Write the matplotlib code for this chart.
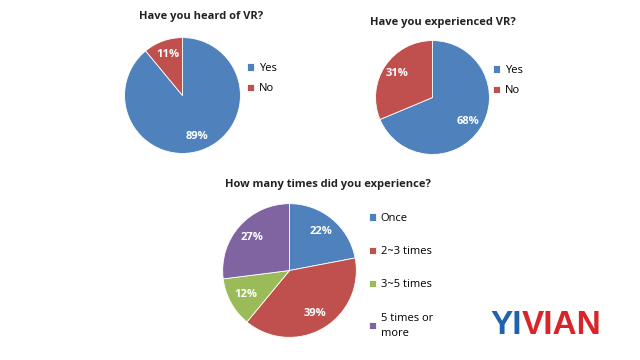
import matplotlib.pyplot as plt

# survey data
heard_labels = ['Yes', 'No']
heard_vals = [89, 11]
exp_labels = ['Yes', 'No']
exp_vals = [68, 31]
times_labels = ['Once', '2~3 times', '3~5 times', '5 times or\nmore']
times_vals = [22, 39, 12, 27]

blue, red, green, purple = '#4F81BD', '#C0504D', '#9BBB59', '#8064A2'
W, H = 640, 360

plt.rcParams['font.family'] = ['Open Sans', 'DejaVu Sans']

fig = plt.figure(figsize=(6.4, 3.6), dpi=100)
fig.patch.set_facecolor('white')


def px_axes(left, top, size):
    return fig.add_axes([left / W, (H - top - size) / H, size / W, size / H])


def draw_pie(ax, vals, labels, colors, title, title_xy, leg_xy, spacing, fs_title=8):
    wedges, _, autos = ax.pie(vals, colors=colors, startangle=90, counterclock=False,
                              autopct=lambda p: '%d%%' % round(p * sum(vals) / 100),
                              pctdistance=0.75, normalize=True,
                              wedgeprops=dict(edgecolor='white', linewidth=0.6))
    ax.set_xlim(-1.01, 1.01)
    ax.set_ylim(-1.01, 1.01)
    for t in autos:
        t.set_color('white')
        t.set_fontweight('bold')
        t.set_fontsize(8)
    fig.text(title_xy[0] / W, 1 - title_xy[1] / H, title, ha='center', va='center',
             fontsize=fs_title, fontweight='bold', color='#222222')
    leg = ax.legend(wedges, labels, loc='upper left',
                    bbox_to_anchor=(leg_xy[0] / W, 1 - leg_xy[1] / H),
                    bbox_transform=fig.transFigure, frameon=False, fontsize=8,
                    handlelength=0.65, handleheight=0.65, handletextpad=0.4,
                    labelspacing=spacing, borderpad=0, borderaxespad=0)
    return leg


ax1 = px_axes(124, 37, 117)
draw_pie(ax1, heard_vals, heard_labels, [blue, red], 'Have you heard of VR?',
         (201, 16), (247, 63), 0.85)

ax2 = px_axes(375, 40, 115)
draw_pie(ax2, exp_vals, exp_labels, [blue, red], 'Have you experienced VR?',
         (443, 23), (493, 65), 0.85)

ax3 = px_axes(222, 203, 135)
leg3 = draw_pie(ax3, times_vals, times_labels, [blue, red, green, purple],
                'How many times did you experience?', (328, 184), (369, 213), 2.0)
leg3.get_texts()[-1].set_linespacing(1.5)

fig.text(522 / W, 1 - 326 / H, 'YI', ha='right', va='center', fontsize=24,
         fontweight='bold', color='#1F62AE', family='Liberation Sans')
fig.text(522 / W, 1 - 326 / H, 'VIAN', ha='left', va='center', fontsize=24,
         fontweight='bold', color='#D9252A', family='Liberation Sans')

plt.savefig('out.png', dpi=100, facecolor='white')
